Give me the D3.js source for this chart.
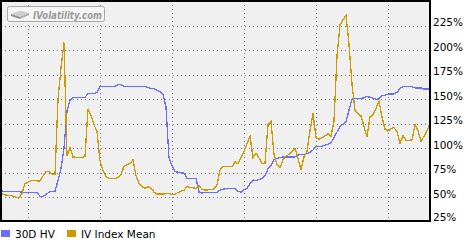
<!DOCTYPE html>
<html>
<head>
<meta charset="utf-8">
<script src="https://cdn.jsdelivr.net/npm/d3@7"></script>
<style>
  body { margin: 0; background: #fff; }
  svg { display: block; }
</style>
</head>
<body>
<div id="chart"></div>
<script>
// chart values, one sample per trading day
var hvValues = [
  57, 55.5, 55.5, 55.5, 55.5, 55.5, 55.5, 55, 55, 55,
  55, 55, 55, 50.6, 50.6, 52.5, 55, 55.7, 56, 67,
  79, 100, 138, 149, 152, 152, 152, 152, 152, 156,
  156, 156, 157, 163, 163, 163, 163, 163, 163, 165,
  165, 163, 163, 163, 163, 163, 163, 163, 163, 162,
  161, 161, 159, 158, 155, 142, 90, 82, 76, 75.5,
  75, 74.5, 69, 69, 69, 69, 55, 54, 55, 55,
  55, 55, 55, 57, 58, 58.5, 58.5, 58.5, 58.5, 56,
  55, 57.5, 59, 63.5, 67.5, 67, 68, 69, 71.6, 79,
  82, 88.5, 89.5, 90.5, 91, 91, 91, 91, 91, 93,
  93.5, 93.5, 94.6, 95.5, 98, 101.5, 102, 102, 103, 104,
  105.5, 111, 116.5, 122, 124.5, 127, 139, 150, 151, 151,
  151, 151.5, 153, 152, 151, 150, 150.5, 153.7, 154, 155.4,
  155.4, 155.4, 157, 161, 163, 163, 163, 163, 161.6, 161.6,
  161.6, 160.5, 160.5, 160.5
];

var ivValues = [
  54, 52.5, 52, 51.5, 51, 50, 49, 54, 63.5, 65,
  67, 67, 66.5, 66.5, 71.6, 76, 76, 73.6, 73, 150,
  182, 208, 92, 101, 91, 90.6, 90.6, 90.6, 91.5, 140,
  133, 124, 117, 87, 77, 71, 69, 69, 68.6, 70,
  73, 81.5, 83, 84.5, 88, 72, 64, 60.8, 59, 60.8,
  59, 55, 53, 53, 53, 53.5, 54, 52.4, 53, 54.7,
  56, 57, 60.8, 59.5, 59.5, 59, 62, 58, 57, 57.4,
  57.4, 58.5, 62.5, 77.7, 81, 81, 81, 81, 86, 84,
  90, 97, 104.7, 112, 90.6, 95, 90, 84.5, 84.5, 124,
  127, 94, 83, 80, 88, 92, 93.5, 96.5, 100, 89.5,
  78, 91, 97, 118, 136, 111, 109, 110.5, 112.5, 115,
  112, 128, 194, 226, 231.5, 236, 206, 165.5, 138.5, 135,
  133, 122, 111.4, 132, 134, 141, 148, 132, 119.5, 117.5,
  120, 121, 117, 104.7, 113, 108, 108, 108.5, 124, 118,
  107, 112, 118, 125
];

var yTicks = [25, 50, 75, 100, 125, 150, 175, 200, 225];
var xGridIdx = [9, 33, 57, 81, 105, 129];   // vertical dotted lines (day index)
var seriesNames = ["30D HV", "IV Index Mean"];
var seriesColors = ["#6b6bff", "#cc9900"];

var w = 470, h = 240;
var plot = {left: 1, top: 1, right: 430, bottom: 221};

var svg = d3.select("#chart")
  .append("svg")
    .attr("width", w)
    .attr("height", h)
    .style("font-family", "'DejaVu Sans', Verdana, sans-serif");

var x = d3.scaleLinear()
    .domain([0, hvValues.length - 1])
    .range([plot.left, plot.right]);

var y = d3.scaleLinear()
    .domain([25, 250])
    .range([plot.bottom + 0.5, plot.top + 0.5]);

// plot background
svg.append("rect")
    .attr("x", plot.left)
    .attr("y", plot.top)
    .attr("width", plot.right - plot.left)
    .attr("height", plot.bottom - plot.top)
    .attr("fill", "#f0f0f0");

// dotted grid
svg.append("g")
    .selectAll("line")
    .data(yTicks.slice(1))
    .enter()
    .append("line")
    .attr("x1", plot.left)
    .attr("x2", plot.right)
    .attr("y1", function(d) { return Math.round(y(d)) + 0.5; })
    .attr("y2", function(d) { return Math.round(y(d)) + 0.5; })
    .attr("stroke", "#7a7a7a")
    .attr("stroke-dasharray", "1,3");

svg.append("g")
    .selectAll("line")
    .data(xGridIdx)
    .enter()
    .append("line")
    .attr("x1", function(d) { return Math.round(x(d)) + 0.5; })
    .attr("x2", function(d) { return Math.round(x(d)) + 0.5; })
    .attr("y1", plot.top)
    .attr("y2", plot.bottom)
    .attr("stroke", "#7a7a7a")
    .attr("stroke-dasharray", "1,3");

// logo box
var logo = svg.append("g").attr("id", "logo");
logo.append("rect")
    .attr("x", 7.5).attr("y", 6.5)
    .attr("width", 97).attr("height", 15)
    .attr("rx", 2)
    .attr("fill", "#f6f6f6")
    .attr("stroke", "#a8a8a8");
logo.append("polygon")
    .attr("points", "11,14 20,10.5 29,13 20,17")
    .attr("fill", "#cfcfcf");
logo.append("polygon")
    .attr("points", "11,14 20,17 20,19 11,16")
    .attr("fill", "#8f8f8f");
logo.append("polygon")
    .attr("points", "20,17 29,13 29,15 20,19")
    .attr("fill", "#a9a9a9");
logo.append("text")
    .attr("x", 33).attr("y", 18.5)
    .attr("textLength", 69)
    .attr("lengthAdjust", "spacingAndGlyphs")
    .style("font-size", "11px")
    .style("font-weight", "bold")
    .style("font-style", "italic")
    .attr("fill", "#9a9a9a")
    .text("IVolatility.com");

// series lines
var line = d3.line()
    .x(function(d, i) { return x(i); })
    .y(function(d) { return y(d); });

[hvValues, ivValues].forEach(function(vals, k) {
  svg.append("path")
      .datum(vals)
      .attr("fill", "none")
      .attr("stroke", seriesColors[k])
      .attr("stroke-width", 1.3)
      .attr("shape-rendering", "crispEdges")
      .attr("d", line);
});

// frame
svg.append("rect")
    .attr("x", plot.left)
    .attr("y", plot.top)
    .attr("width", plot.right - plot.left)
    .attr("height", plot.bottom - plot.top)
    .attr("fill", "none")
    .attr("stroke", "#000")
    .attr("stroke-width", 2);

// right axis labels
svg.append("g")
    .selectAll("text")
    .data(yTicks)
    .enter()
    .append("text")
    .attr("x", 433)
    .attr("y", function(d) { return y(d) + (d == 25 ? -1 : 0.5); })
    .style("font-size", "10.5px")
    .attr("fill", "#000")
    .text(function(d) { return d + "%"; });

// legend
var legend = svg.append("g")
    .selectAll("g")
    .data(seriesNames)
    .enter()
    .append("g")
    .attr("transform", function(d, i) { return "translate(" + (i == 0 ? 0 : 66) + ",0)"; });

legend.append("rect")
    .attr("x", 1).attr("y", 230)
    .attr("width", 9).attr("height", 7)
    .attr("fill", function(d, i) { return seriesColors[i]; });

legend.append("text")
    .attr("x", 15).attr("y", 237.5)
    .style("font-size", "10.5px")
    .attr("fill", "#000")
    .text(function(d) { return d; });
</script>
</body>
</html>
